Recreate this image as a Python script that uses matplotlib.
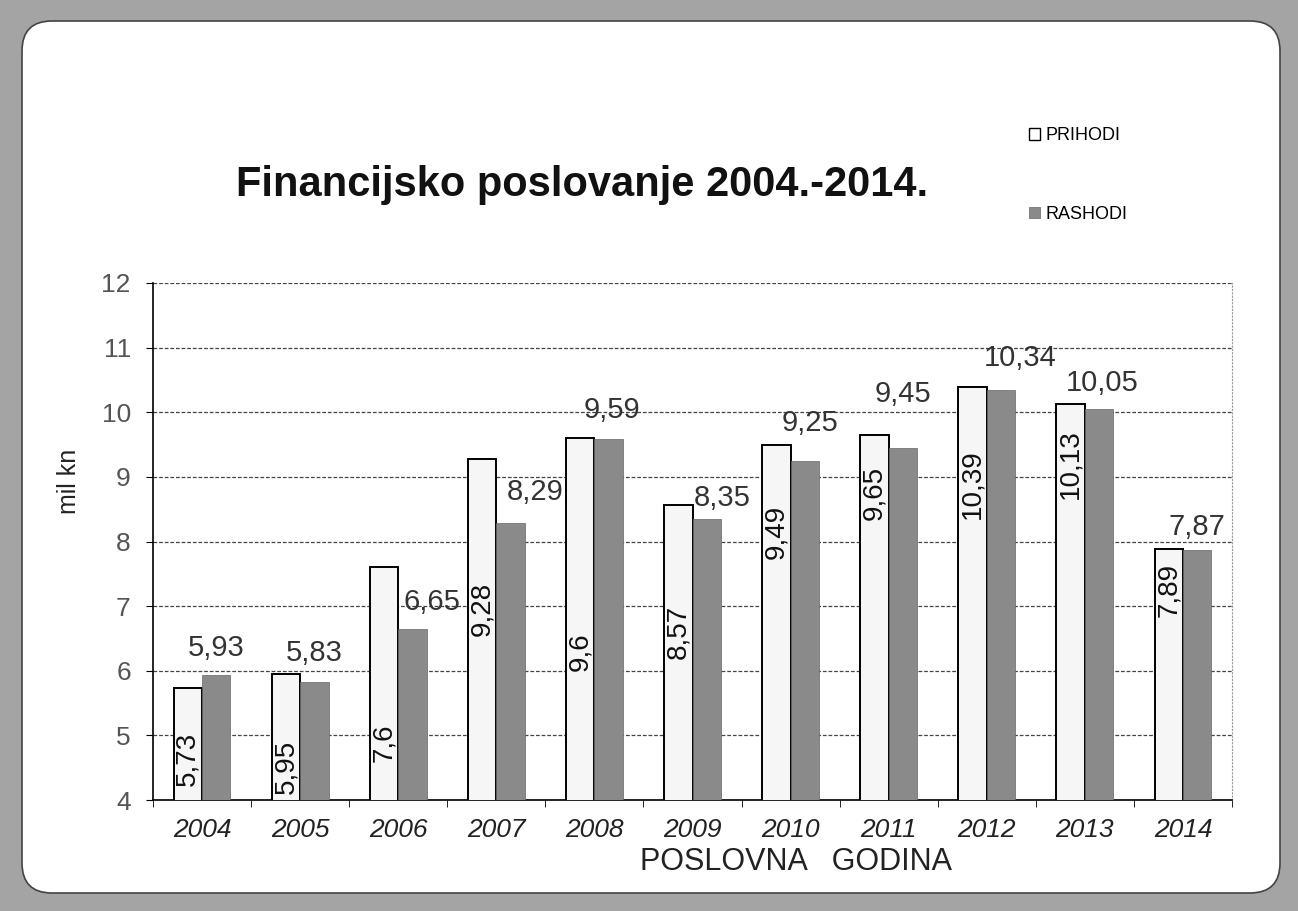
import numpy as np
import matplotlib.pyplot as plt
from matplotlib.patches import FancyBboxPatch, Patch

plt.rcParams['font.family'] = ['Liberation Sans', 'DejaVu Sans']

# podaci
godine = ['2004', '2005', '2006', '2007', '2008', '2009', '2010', '2011', '2012', '2013', '2014']
prihodi = [5.73, 5.95, 7.6, 9.28, 9.6, 8.57, 9.49, 9.65, 10.39, 10.13, 7.89]
rashodi = [5.93, 5.83, 6.65, 8.29, 9.59, 8.35, 9.25, 9.45, 10.34, 10.05, 7.87]

# polozaj oznaka (rucno postavljene u originalu)
prih_lbl_y = [4.64, 4.52, 4.88, 6.96, 6.3, 6.6, 8.15, 8.75, 8.89, 9.19, 7.25]
rash_lbl_y = [6.35, 6.27, 7.07, 8.76, 10.03, 8.68, 9.84, 10.28, 10.84, 10.45, 8.23]
rash_lbl_dx = [0, 0, 0.2, 0.25, 0.03, 0.16, 0.05, 0, 0.2, 0.03, 0]


def fmt(v):
    return ('%g' % v).replace('.', ',')


fig = plt.figure(figsize=(12.98, 9.11), dpi=100)
fig.patch.set_facecolor('#a4a4a4')

# bijela ploca sa zaobljenim rubovima
panel = FancyBboxPatch((0.22, 0.18), 12.58, 8.72,
                       boxstyle='round,pad=0,rounding_size=0.3',
                       transform=fig.dpi_scale_trans,
                       facecolor='white', edgecolor='#444444', lw=1.2,
                       zorder=-1)
fig.add_artist(panel)

ax = fig.add_axes([153 / 1298, 111 / 911, 1079 / 1298, 517 / 911])
ax.set_facecolor('none')

x = np.arange(len(godine))
w = 0.29
ax.bar(x - w / 2, prihodi, w, color='#f6f6f6', edgecolor='black',
       linewidth=1.4, zorder=3, label='PRIHODI')
ax.bar(x + w / 2, rashodi, w, color='#8a8a8a', edgecolor='#666666',
       linewidth=0.5, zorder=3, label='RASHODI')

for i in range(len(godine)):
    ax.text(x[i] - w / 2, prih_lbl_y[i], fmt(prihodi[i]), rotation=90,
            ha='center', va='center', fontsize=20, color='#111111', zorder=4)
    ax.text(x[i] + w / 2 + rash_lbl_dx[i], rash_lbl_y[i], fmt(rashodi[i]),
            ha='center', va='center', fontsize=21, color='#333333', zorder=4)

ax.set_ylim(4, 12)
ax.set_xlim(-0.5, len(godine) - 0.5)
ax.set_yticks(range(4, 13))
ax.tick_params(axis='y', labelsize=19, labelcolor='#555555', length=5,
               direction='out', pad=11)
ax.set_xticks(x)
ax.set_xticklabels(godine, fontsize=19, style='italic', color='#222222')
ax.tick_params(axis='x', length=0, pad=13)
ax.set_xticks(np.arange(-0.5, len(godine)), minor=True)
ax.tick_params(axis='x', which='minor', length=5, direction='out')

ax.yaxis.grid(True, linestyle=(0, (3, 1.5)), color='#444444', lw=0.9, zorder=0)
ax.spines['top'].set_visible(False)
ax.spines['right'].set_linestyle((0, (1, 2)))
ax.spines['right'].set_color('#999999')
ax.spines['left'].set_linewidth(1.2)
ax.spines['bottom'].set_linewidth(1.2)

fig.text(582 / 1298, 1 - 185 / 911, 'Financijsko poslovanje 2004.-2014.',
         ha='center', va='center', fontsize=30, weight='bold', color='#111111')
fig.text(69 / 1298, 1 - 481 / 911, 'mil kn', rotation=90, ha='center',
         va='center', fontsize=18, color='#222222')
fig.text(796 / 1298, 1 - 862 / 911, 'POSLOVNA   GODINA', ha='center',
         va='center', fontsize=22, color='#222222')

handles = [Patch(facecolor='white', edgecolor='black', lw=1),
           Patch(facecolor='#8a8a8a', edgecolor='#666666', lw=0.5)]
fig.legend(handles, ['PRIHODI', 'RASHODI'], loc='upper left',
           bbox_to_anchor=(1013 / 1298, 1 - 111 / 911), frameon=False,
           fontsize=13, handlelength=0.6, handleheight=0.6,
           handletextpad=0.3, labelspacing=3.4)

plt.savefig('out.png', dpi=100, facecolor=fig.get_facecolor())
